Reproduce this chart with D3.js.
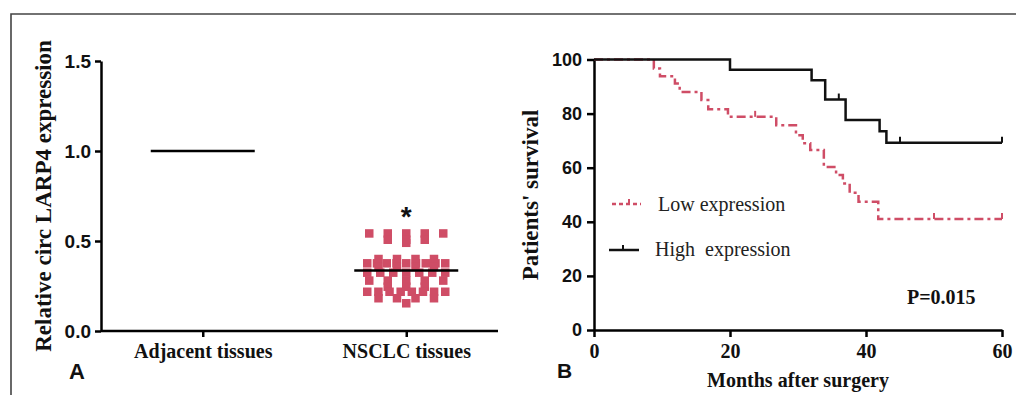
<!DOCTYPE html>
<html>
<head>
<meta charset="utf-8">
<script src="https://cdn.jsdelivr.net/npm/d3@7"></script>
<style>
  body { margin: 0; background: #fff; }
  svg { display: block; }
  .serif { font-family: "Liberation Serif", "Times New Roman", serif; }
  .sans { font-family: "Liberation Sans", Arial, sans-serif; }
</style>
</head>
<body>
<div id="chart"></div>
<script>
// ---- data (panel A) ----
const groups = ['Adjacent tissues', 'NSCLC tissues'];
const adjacentMean = 1.0;
const nsclcValues = [
  0.542, 0.542, 0.542, 0.542, 0.542,
  0.507, 0.507, 0.507,
  0.49,
  0.40, 0.40, 0.40, 0.40,
  0.376, 0.376, 0.376, 0.376, 0.376, 0.376, 0.376, 0.376, 0.376,
  0.355, 0.355, 0.355, 0.355,
  0.324, 0.324, 0.324, 0.324, 0.324, 0.324, 0.324,
  0.28, 0.28, 0.28, 0.28, 0.28,
  0.246, 0.246, 0.246,
  0.218, 0.218, 0.218, 0.218, 0.218, 0.218, 0.218, 0.218,
  0.182, 0.182, 0.182, 0.182,
  0.154
];
const yTicksA = [0, 0.5, 1.0, 1.5];

// ---- data (panel B) ----
const lowTimes = [0, 8.8, 9.7, 11.9, 12.6, 15.8, 16.8, 19.7, 26.8, 29.7, 30.7, 31.8, 33.8, 35.6, 36.6, 37.6, 38.9, 41.8, 60];
const lowSurv  = [100, 96.7, 93.8, 91.1, 88, 85, 81.6, 78.8, 75.7, 72, 69, 66.5, 60.3, 57.3, 54.2, 50.7, 47.4, 41, 41];
const lowCensor = [23.7, 50, 60];
const highTimes = [0, 20, 32, 34, 37, 42, 43, 60];
const highSurv  = [100, 96.2, 92.3, 85.2, 77.6, 73.5, 69.2, 69.2];
const highCensor = [36, 45, 60];
const xTicksB = [0, 20, 40, 60];
const yTicksB = [0, 20, 40, 60, 80, 100];

const RED = '#cf4d66';
const W = 1016, H = 395;

const svg = d3.select('#chart').append('svg')
  .attr('width', W)
  .attr('height', H);

svg.append('rect').attr('width', W).attr('height', H).attr('fill', '#fff');

// outer frame (top and left edges only)
svg.append('path')
  .attr('d', `M11,${H}V14H${W}`)
  .attr('fill', 'none')
  .attr('stroke', '#444')
  .attr('stroke-width', 1.6);

function styleAxis(g, fontClass, fontSize) {
  g.select('.domain').attr('stroke', '#000').attr('stroke-width', 2.5);
  g.selectAll('.tick line').attr('stroke', '#000').attr('stroke-width', 2.5);
  g.selectAll('.tick text')
    .attr('class', fontClass)
    .attr('fill', '#111')
    .style('font-size', fontSize + 'px')
    .style('font-weight', 'bold');
}

// ================= Panel A =================
const yA = d3.scaleLinear().domain([0, 1.5]).range([331, 61]);
const xA = d3.scalePoint().domain(groups).range([101, 508]).padding(0.5);

const gA = svg.append('g');

const yAxisA = gA.append('g')
  .attr('transform', 'translate(101,0)')
  .call(d3.axisLeft(yA).tickValues(yTicksA).tickFormat(d3.format('.1f')).tickSize(6).tickSizeOuter(0).tickPadding(4));
styleAxis(yAxisA, 'sans', 19);

const xAxisA = gA.append('g')
  .attr('transform', 'translate(0,331)')
  .call(d3.axisBottom(xA).tickSize(6).tickSizeOuter(0).tickPadding(7));
xAxisA.select('.domain').attr('d', 'M101,0H498');
styleAxis(xAxisA, 'serif', 20);

// y title
gA.append('text')
  .attr('class', 'serif')
  .attr('transform', `translate(51,196) rotate(-90)`)
  .attr('text-anchor', 'middle')
  .style('font-size', '23px')
  .style('font-weight', 'bold')
  .attr('fill', '#111')
  .text('Relative circ LARP4 expression');

// scatter: points with equal values share a row, spread evenly around the group centre
const sq = 8.5;
const cx = xA('NSCLC tissues');
const rows = d3.groups(nsclcValues, v => v);
const placed = [];
rows.forEach(([v, pts]) => {
  const n = pts.length;
  const sp = n > 1 ? Math.min(18.5, 78 / (n - 1)) : 0;
  pts.forEach((p, i) => {
    placed.push({ v, x: cx + (i - (n - 1) / 2) * sp, y: yA(v) });
  });
});

gA.append('g').selectAll('rect')
  .data(placed)
  .join('rect')
  .attr('x', d => d.x - sq / 2)
  .attr('y', d => d.y - sq / 2)
  .attr('width', sq)
  .attr('height', sq)
  .attr('fill', RED);

// mean lines
const meanLines = [
  { g: 'Adjacent tissues', v: adjacentMean },
  { g: 'NSCLC tissues', v: d3.mean(nsclcValues) }
];
gA.append('g').selectAll('line')
  .data(meanLines)
  .join('line')
  .attr('x1', d => xA(d.g) - 52)
  .attr('x2', d => xA(d.g) + 52)
  .attr('y1', d => yA(d.v))
  .attr('y2', d => yA(d.v))
  .attr('stroke', '#000')
  .attr('stroke-width', 2.5);

// significance star
gA.append('text')
  .attr('class', 'sans')
  .attr('x', cx)
  .attr('y', 226)
  .attr('text-anchor', 'middle')
  .style('font-size', '28px')
  .style('font-weight', 'bold')
  .attr('fill', '#111')
  .text('*');

gA.append('text')
  .attr('class', 'sans')
  .attr('x', 69)
  .attr('y', 379)
  .style('font-size', '22px')
  .style('font-weight', 'bold')
  .attr('fill', '#111')
  .text('A');

// ================= Panel B =================
const xB = d3.scaleLinear().domain([0, 60]).range([594, 1002]);
const yB = d3.scaleLinear().domain([0, 100]).range([330, 59.5]);

const gB = svg.append('g');

const yAxisB = gB.append('g')
  .attr('transform', 'translate(594,0)')
  .call(d3.axisLeft(yB).tickValues(yTicksB).tickSize(7).tickSizeOuter(0).tickPadding(5));
styleAxis(yAxisB, 'sans', 18);

const xAxisB = gB.append('g')
  .attr('transform', 'translate(0,330)')
  .call(d3.axisBottom(xB).tickValues(xTicksB).tickSize(7).tickSizeOuter(0).tickPadding(7));
styleAxis(xAxisB, 'serif', 20);

gB.append('text')
  .attr('class', 'serif')
  .attr('transform', `translate(538,195) rotate(-90)`)
  .attr('text-anchor', 'middle')
  .style('font-size', '23px')
  .style('font-weight', 'bold')
  .attr('fill', '#111')
  .text("Patients' survival");

gB.append('text')
  .attr('class', 'serif')
  .attr('x', 798)
  .attr('y', 387)
  .attr('text-anchor', 'middle')
  .style('font-size', '20px')
  .style('font-weight', 'bold')
  .attr('fill', '#111')
  .text('Months after surgery');

const km = d3.line()
  .x(d => xB(d[0]))
  .y(d => yB(d[1]))
  .curve(d3.curveStepAfter);

function survAt(times, surv, t) {
  let s = surv[0];
  times.forEach((tt, i) => { if (tt <= t) s = surv[i]; });
  return s;
}

// low expression (red, dashed)
gB.append('path')
  .datum(lowTimes.map((t, i) => [t, lowSurv[i]]))
  .attr('d', km)
  .attr('fill', 'none')
  .attr('stroke', RED)
  .attr('stroke-width', 2.5)
  .attr('stroke-dasharray', '9,4,3,4');

gB.append('g').selectAll('line')
  .data(lowCensor)
  .join('line')
  .attr('x1', d => xB(d)).attr('x2', d => xB(d))
  .attr('y1', d => yB(survAt(lowTimes, lowSurv, d)))
  .attr('y2', d => yB(survAt(lowTimes, lowSurv, d)) - 6)
  .attr('stroke', RED)
  .attr('stroke-width', 2);

// high expression (black, solid)
gB.append('path')
  .datum(highTimes.map((t, i) => [t, highSurv[i]]))
  .attr('d', km)
  .attr('fill', 'none')
  .attr('stroke', '#111')
  .attr('stroke-width', 2.5);

gB.append('g').selectAll('line')
  .data(highCensor)
  .join('line')
  .attr('x1', d => xB(d)).attr('x2', d => xB(d))
  .attr('y1', d => yB(survAt(highTimes, highSurv, d)))
  .attr('y2', d => yB(survAt(highTimes, highSurv, d)) - 6)
  .attr('stroke', '#111')
  .attr('stroke-width', 2);

// legend
const legend = gB.append('g');
legend.append('line')
  .attr('x1', 612).attr('x2', 641).attr('y1', 204).attr('y2', 204)
  .attr('stroke', RED).attr('stroke-width', 2.5).attr('stroke-dasharray', '4,3,4,3');
legend.append('line')
  .attr('x1', 629).attr('x2', 629).attr('y1', 204).attr('y2', 199)
  .attr('stroke', RED).attr('stroke-width', 2);
legend.append('text')
  .attr('class', 'serif')
  .attr('x', 658).attr('y', 211)
  .style('font-size', '20px')
  .attr('fill', '#222')
  .text('Low expression');

legend.append('line')
  .attr('x1', 609).attr('x2', 639).attr('y1', 250).attr('y2', 250)
  .attr('stroke', '#111').attr('stroke-width', 2.5);
legend.append('line')
  .attr('x1', 623).attr('x2', 623).attr('y1', 250).attr('y2', 245)
  .attr('stroke', '#111').attr('stroke-width', 2);
legend.append('text')
  .attr('class', 'serif')
  .attr('x', 655).attr('y', 256)
  .style('font-size', '20px')
  .style('white-space', 'pre')
  .attr('fill', '#222')
  .text('High  expression');

gB.append('text')
  .attr('class', 'serif')
  .attr('x', 907).attr('y', 304)
  .style('font-size', '20px')
  .style('font-weight', 'bold')
  .attr('fill', '#111')
  .text('P=0.015');

gB.append('text')
  .attr('class', 'sans')
  .attr('x', 557)
  .attr('y', 378)
  .style('font-size', '21px')
  .style('font-weight', 'bold')
  .attr('fill', '#111')
  .text('B');
</script>
</body>
</html>
